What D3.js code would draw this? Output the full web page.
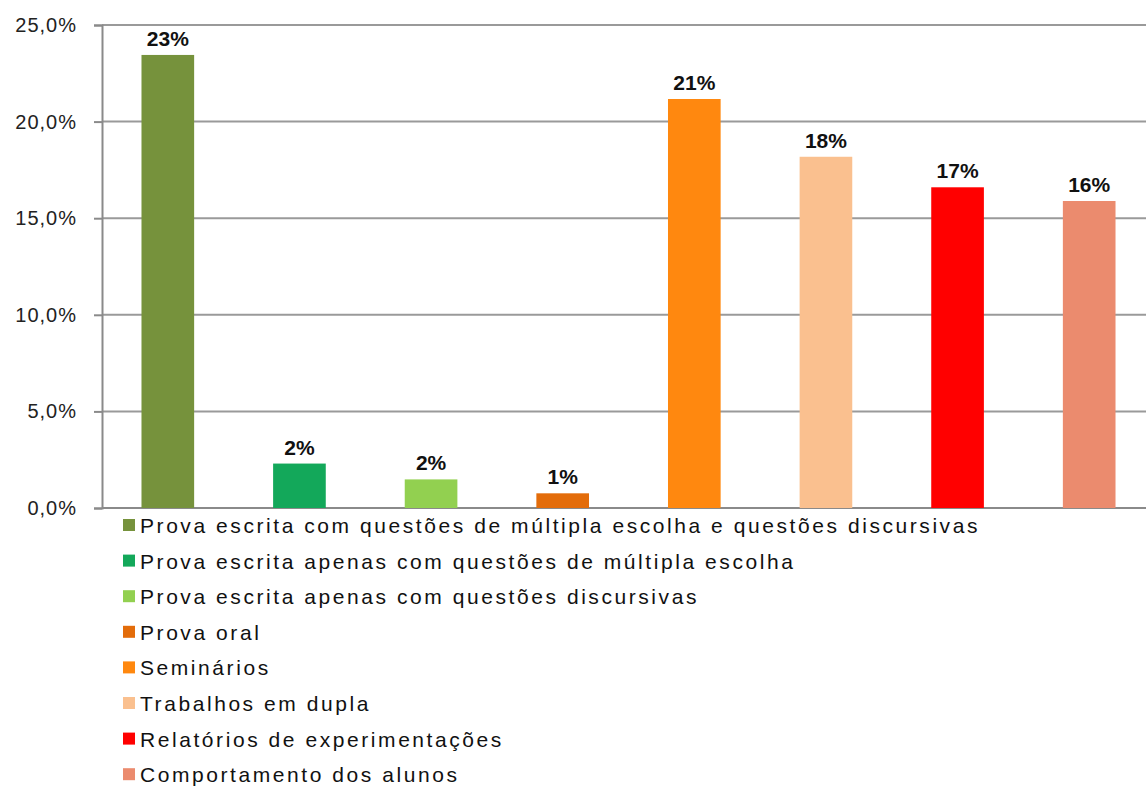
<!DOCTYPE html>
<html>
<head>
<meta charset="utf-8">
<script src="https://cdn.jsdelivr.net/npm/d3@7/dist/d3.min.js"></script>
<style>
  html, body { margin: 0; padding: 0; background: #fff; }
  svg { display: block; }
</style>
</head>
<body>
<svg id="chart" width="1146" height="789"></svg>
<script>
const categories = [
  "Prova escrita com questões de múltipla escolha e questões discursivas",
  "Prova escrita apenas com questões de múltipla escolha",
  "Prova escrita apenas com questões discursivas",
  "Prova oral",
  "Seminários",
  "Trabalhos em dupla",
  "Relatórios de experimentações",
  "Comportamento dos alunos"
];
const values = [23.45, 2.3, 1.48, 0.76, 21.17, 18.18, 16.6, 15.89];
const valueLabels = ["23%", "2%", "2%", "1%", "21%", "18%", "17%", "16%"];
const colors = ["#76923C", "#13A85A", "#92D050", "#E36C0A", "#FF880F", "#FAC08F", "#FF0000", "#EB8B6E"];
const yTicks = [0, 5, 10, 15, 20, 25];
const yTickLabels = ["0,0%", "5,0%", "10,0%", "15,0%", "20,0%", "25,0%"];

const svg = d3.select("#chart");
const mLeft = 102, mRight = 1155, mTop = 25, mBottom = 508;

const x = d3.scaleBand().domain(d3.range(categories.length)).range([mLeft, mRight]).paddingInner(0.6).paddingOuter(0.3);
const y = d3.scaleLinear().domain([0, 25]).range([mBottom, mTop]);

// gridlines
svg.append("g").selectAll("line").data(yTicks.filter(t => t > 0)).join("line")
  .attr("x1", mLeft).attr("x2", 1146)
  .attr("y1", d => y(d)).attr("y2", d => y(d))
  .attr("stroke", "#9a9a9a").attr("stroke-width", 2);

// y axis
const yAxis = d3.axisLeft(y).tickValues(yTicks).tickSize(8).tickPadding(17)
  .tickFormat((d, i) => yTickLabels[i]);
const gy = svg.append("g").attr("transform", `translate(${mLeft},0)`).call(yAxis);
gy.select(".domain").attr("stroke", "#8a8a8a").attr("stroke-width", 2);
gy.selectAll(".tick line").attr("stroke", "#8a8a8a").attr("stroke-width", 2);
gy.selectAll(".tick text")
  .attr("fill", "#222")
  .style("font-family", "'Liberation Sans', Arial, sans-serif")
  .style("font-size", "20px")
  .style("letter-spacing", "1px");

// x baseline
svg.append("line").attr("x1", mLeft).attr("x2", 1146).attr("y1", y(0)).attr("y2", y(0))
  .attr("stroke", "#8a8a8a").attr("stroke-width", 2);

// bars
svg.append("g").selectAll("rect").data(values).join("rect")
  .attr("x", (d, i) => x(i))
  .attr("width", x.bandwidth())
  .attr("y", d => y(d))
  .attr("height", d => y(0) - y(d))
  .attr("fill", (d, i) => colors[i]);

// value labels
svg.append("g").selectAll("text").data(values).join("text")
  .attr("x", (d, i) => x(i) + x.bandwidth() / 2)
  .attr("y", d => y(d) - 9)
  .attr("text-anchor", "middle")
  .attr("fill", "#111")
  .style("font-family", "'Liberation Sans', Arial, sans-serif")
  .style("font-weight", "bold")
  .style("font-size", "21px")
  .text((d, i) => valueLabels[i]);

// legend
const legend = svg.append("g");
const rowH = 35.6, legTop = 525;
const items = legend.selectAll("g").data(categories).join("g")
  .attr("transform", (d, i) => `translate(0,${legTop + i * rowH})`);
items.append("rect").attr("x", 123).attr("y", -6).attr("width", 12).attr("height", 12)
  .attr("fill", (d, i) => colors[i]);
const texts = items.append("text").attr("x", 140).attr("y", 8)
  .attr("fill", "#111")
  .style("font-family", "'Liberation Sans', Arial, sans-serif")
  .style("font-size", "21px")
  .text(d => d);
// fit letter spacing so the first row spans like the reference (~840px)
const first = texts.node();
const natural = first.getComputedTextLength();
const ls = Math.max(0, (840 - natural) / categories[0].length);
texts.style("letter-spacing", ls + "px");
</script>
</body>
</html>
